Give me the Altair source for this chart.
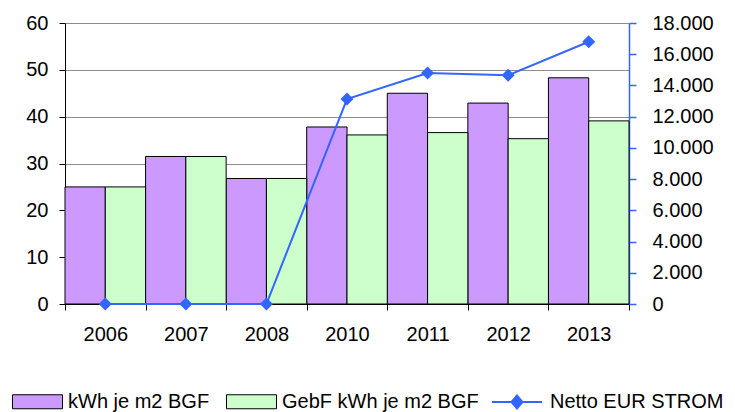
import altair as alt
import pandas as pd

years = ["2006", "2007", "2008", "2010", "2011", "2012", "2013"]
s1 = "kWh je m2 BGF"
s2 = "GebF kWh je m2 BGF"
s3 = "Netto EUR STROM"
kwh = [25.0, 31.5, 26.8, 37.8, 45.0, 42.9, 48.3]
gebf = [25.0, 31.5, 26.8, 36.1, 36.6, 35.3, 39.1]
eur = [0, 0, 0, 13130, 14800, 14650, 16800]
left_ticks = [0, 10, 20, 30, 40, 50, 60]
right_ticks = [0, 2000, 4000, 6000, 8000, 10000, 12000, 14000, 16000, 18000]

bar_df = pd.DataFrame(
    [{"year": y, "series": s1, "value": v} for y, v in zip(years, kwh)]
    + [{"year": y, "series": s2, "value": v} for y, v in zip(years, gebf)]
)
line_df = pd.DataFrame({"year": years, "eur": eur, "series": [s3] * len(years)})

FONT = "Liberation Sans"
BLUE = "#3366FF"

x_enc = alt.X(
    "year:N",
    sort=years,
    scale=alt.Scale(paddingInner=0, paddingOuter=0),
    axis=alt.Axis(
        title=None, labelAngle=0, tickBand="extent", domainColor="black",
        tickColor="black", tickSize=6, labelFontSize=20, labelPadding=14,
        grid=False, labelFont=FONT, labelColor="black",
    ),
)

bars = alt.Chart(bar_df).mark_bar(stroke="black", strokeWidth=1).encode(
    x=x_enc,
    xOffset=alt.XOffset("series:N", sort=[s1, s2],
                        scale=alt.Scale(paddingInner=0, paddingOuter=0)),
    y=alt.Y(
        "value:Q",
        scale=alt.Scale(domain=[0, 60]),
        axis=alt.Axis(
            title=None, values=left_ticks, gridColor="#8c8c8c", domainColor="black",
            tickColor="black", tickSize=6, labelFontSize=20, labelPadding=11,
            labelFont=FONT, labelColor="black", labelOverlap=False,
        ),
    ),
    fill=alt.Fill(
        "series:N",
        scale=alt.Scale(domain=[s1, s2], range=["#CC99FF", "#CCFFCC"]),
        legend=alt.Legend(
            orient="none", legendX=-53, legendY=353, direction="horizontal",
            title=None, symbolType="M-1,-0.28H1V0.28H-1Z", symbolSize=2500,
            symbolStrokeColor="black", symbolStrokeWidth=1, labelFontSize=20,
            labelOffset=5, columnPadding=14, labelFont=FONT, labelColor="black",
            labelLimit=400,
        ),
    ),
)

y_right = alt.Y(
    "eur:Q",
    scale=alt.Scale(domain=[0, 18000]),
    axis=alt.Axis(
        orient="right", title=None, values=right_ticks, tickCount=10,
        labelExpr="replace(format(datum.value, ',.0f'), ',', '.')",
        grid=False, domainColor=BLUE, tickColor=BLUE, tickSize=7,
        domainWidth=1.5, tickWidth=1.5,
        labelFontSize=20, labelPadding=16, labelFont=FONT, labelColor="black",
        labelOverlap=False, offset=0,
    ),
)

base = alt.Chart(line_df).encode(x=alt.X("year:N", sort=years), y=y_right)

line = base.mark_line(strokeWidth=2).encode(
    stroke=alt.Stroke(
        "series:N",
        scale=alt.Scale(domain=[s3], range=[BLUE]),
        legend=alt.Legend(
            orient="none", legendX=426, legendY=353, title=None,
            symbolType="M-1,0H1M-0.22,0L0,-0.26L0.22,0L0,0.26Z", symbolSize=2500,
            symbolFillColor=BLUE, symbolStrokeColor=BLUE, symbolStrokeWidth=2,
            labelFontSize=20, labelOffset=7, labelFont=FONT, labelColor="black",
            labelLimit=400,
        ),
    ),
)
points = base.mark_point(
    shape="diamond", filled=True, size=170, color=BLUE, opacity=1
)

right = alt.layer(line, points)

chart = (
    alt.layer(bars, right)
    .resolve_scale(y="independent")
    .properties(
        width=564, height=281,
        autosize=alt.AutoSizeParams(type="none"),
        padding={"left": 57, "top": 15, "right": 98, "bottom": 120},
    )
    .configure_view(stroke=None)
)

chart.save("out.html", embed_options={"renderer": "svg", "actions": False})
